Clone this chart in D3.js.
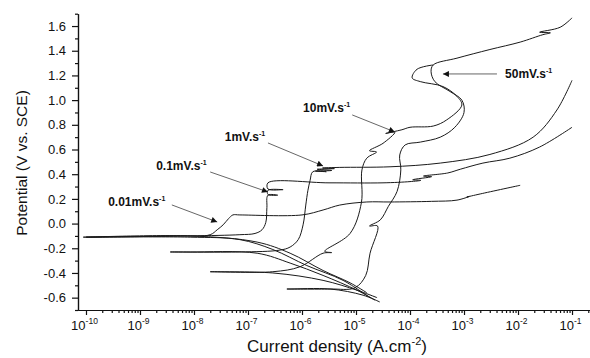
<!DOCTYPE html>
<html>
<head>
<meta charset="utf-8">
<script src="https://cdn.jsdelivr.net/npm/d3@7"></script>
<style>
  body { margin: 0; background: #fff; }
  svg text { font-family: Arial, "Liberation Sans", sans-serif; fill: #111; }
</style>
</head>
<body>
<div id="chart"></div>
<script>
// each point: [log10 of current density (A.cm-2), potential (V vs. SCE)]
const scan001 = [
  [-4.80, -0.56], [-5.11, -0.48], [-5.61, -0.38], [-6.22, -0.24], [-6.83, -0.15],
  [-8.07, -0.10], [-10.0, -0.11], [-8.30, -0.10], [-7.70, -0.09], [-7.57, -0.05],
  [-7.46, -0.01], [-7.36, 0.04], [-7.28, 0.07], [-7.15, 0.07], [-6.00, 0.07],
  [-5.61, 0.11], [-5.30, 0.15], [-4.80, 0.175], [-4.37, 0.175], [-3.60, 0.18],
  [-3.13, 0.19], [-2.90, 0.22], [-2.95, 0.215], [-2.70, 0.24], [-1.96, 0.31]
];
const scan01 = [
  [-4.74, -0.60], [-5.24, -0.46], [-5.91, -0.34], [-6.54, -0.21], [-7.15, -0.13],
  [-8.07, -0.11], [-10.05, -0.11], [-8.07, -0.10], [-7.15, -0.09], [-6.87, -0.08],
  [-6.74, -0.05], [-6.67, 0.01], [-6.65, 0.13], [-6.63, 0.23], [-6.45, 0.23],
  [-6.63, 0.235], [-6.63, 0.27], [-6.35, 0.275], [-6.63, 0.28], [-6.63, 0.33],
  [-5.50, 0.33], [-4.50, 0.33], [-4.00, 0.34], [-3.80, 0.35], [-3.95, 0.355],
  [-3.60, 0.38], [-3.75, 0.385], [-3.30, 0.41], [-3.07, 0.44], [-2.65, 0.49],
  [-2.15, 0.53], [-1.60, 0.62], [-1.00, 0.78]
];
const scan1 = [
  [-4.65, -0.62], [-4.98, -0.54], [-5.61, -0.42], [-6.22, -0.32], [-6.83, -0.24],
  [-8.07, -0.23], [-8.44, -0.23], [-7.15, -0.23], [-6.41, -0.215], [-6.22, -0.19],
  [-6.07, -0.13], [-5.98, -0.01], [-5.93, 0.15], [-5.89, 0.27], [-5.85, 0.35],
  [-5.80, 0.42], [-5.55, 0.42], [-5.75, 0.425], [-5.45, 0.43], [-5.72, 0.44],
  [-5.40, 0.445], [-5.62, 0.45], [-5.30, 0.455], [-4.37, 0.46], [-3.44, 0.49],
  [-2.52, 0.56], [-1.72, 0.70], [-1.28, 0.92], [-1.00, 1.16]
];
const scan10 = [
  [-4.61, -0.60], [-4.98, -0.54], [-5.61, -0.46], [-6.54, -0.40], [-7.70, -0.39],
  [-6.54, -0.39], [-6.04, -0.35], [-5.61, -0.24], [-5.45, -0.235], [-5.58, -0.225],
  [-5.11, -0.08], [-4.90, 0.17], [-4.89, 0.435], [-4.80, 0.53], [-4.62, 0.58],
  [-4.75, 0.59], [-4.50, 0.65], [-4.28, 0.74], [-4.45, 0.73], [-4.15, 0.76],
  [-4.00, 0.78], [-3.57, 0.79], [-3.32, 0.84], [-3.04, 0.96], [-3.13, 1.03],
  [-3.39, 1.11], [-3.81, 1.15], [-3.96, 1.18], [-3.87, 1.25], [-3.57, 1.285]
];
const scan50 = [
  [-4.56, -0.635], [-4.87, -0.58], [-5.48, -0.53], [-6.22, -0.53], [-6.28, -0.53],
  [-5.48, -0.53], [-5.02, -0.52], [-4.82, -0.42], [-4.74, -0.24], [-4.60, -0.02],
  [-4.75, -0.02], [-4.55, 0.03], [-4.40, 0.14], [-4.24, 0.26], [-4.17, 0.435],
  [-4.19, 0.556], [-4.09, 0.637], [-3.81, 0.66], [-3.44, 0.70], [-3.17, 0.78],
  [-3.00, 0.90], [-3.04, 1.00], [-3.26, 1.07], [-3.54, 1.15], [-3.61, 1.23],
  [-3.57, 1.285], [-3.13, 1.34], [-2.52, 1.41], [-1.96, 1.47], [-1.54, 1.53],
  [-1.40, 1.545], [-1.60, 1.55], [-1.22, 1.59], [-1.00, 1.666]
];

const yMajor = [-0.6, -0.4, -0.2, 0.0, 0.2, 0.4, 0.6, 0.8, 1.0, 1.2, 1.4, 1.6];
const yMinor = [-0.7, -0.5, -0.3, -0.1, 0.1, 0.3, 0.5, 0.7, 0.9, 1.1, 1.3, 1.5, 1.7];
const xDecades = [-10, -9, -8, -7, -6, -5, -4, -3, -2, -1];

const rateLabels = ["0.01mV.s", "0.1mV.s", "1mV.s", "10mV.s", "50mV.s"];
// label anchor, arrow start, arrow tip, all as [log10 I, V]
const rateText = [[-9.59, 0.175], [-8.70, 0.467], [-7.43, 0.70], [-5.98, 0.937], [-2.24, 1.212]];
const rateFrom = [[-8.41, 0.151], [-7.70, 0.418], [-6.63, 0.653], [-5.07, 0.88], [-2.39, 1.212]];
const rateTip = [[-7.57, 0.013], [-6.63, 0.256], [-5.61, 0.467], [-4.28, 0.742], [-3.39, 1.212]];

const width = 590;
const height = 358;

const svg = d3.select("#chart")
  .append("svg")
  .attr("width", width)
  .attr("height", height);

const x = d3.scaleLog().domain([10 ** -10.148, 10 ** -0.667]).range([78, 590]);
const y = d3.scaleLinear().domain([-0.7, 1.7]).range([310, 13.7]);

const px = (d) => x(10 ** d[0]);
const py = (d) => y(d[1]);

// axes
const minorX = [];
xDecades.forEach((e) => {
  for (let k = 2; k <= 9; k++) minorX.push(k * 10 ** e);
});

svg.append("g")
  .attr("transform", "translate(0,310)")
  .call(d3.axisBottom(x).tickValues(minorX).tickSize(3).tickSizeOuter(0).tickFormat(""));

const xAxis = svg.append("g")
  .attr("class", "x-axis")
  .attr("transform", "translate(0,310)")
  .call(d3.axisBottom(x).tickValues(xDecades.map((e) => 10 ** e)).tickSize(5).tickSizeOuter(0).tickFormat(""));

xAxis.selectAll(".tick")
  .append("text")
  .attr("x", -2)
  .attr("y", 20)
  .attr("text-anchor", "middle")
  .attr("font-size", 13)
  .each(function (d) {
    const t = d3.select(this);
    t.append("tspan").text("10");
    t.append("tspan").attr("dy", -6).attr("font-size", 8.5).text(Math.round(Math.log10(d)));
  });

svg.append("g")
  .attr("transform", "translate(78,0)")
  .call(d3.axisLeft(y).tickValues(yMinor).tickSize(3).tickSizeOuter(0).tickFormat(""));

svg.append("g")
  .attr("class", "y-axis")
  .attr("transform", "translate(78,0)")
  .call(d3.axisLeft(y).tickValues(yMajor).tickSize(6).tickSizeOuter(0).tickFormat((d) => d.toFixed(1)))
  .selectAll("text")
  .attr("font-size", 13)
  .attr("x", -12)
  .attr("fill", "#111");

svg.selectAll(".domain, .tick line").attr("stroke", "#111").attr("stroke-width", 1.2);

// axis titles
svg.append("text")
  .attr("x", 337)
  .attr("y", 352)
  .attr("text-anchor", "middle")
  .attr("font-size", 17)
  .call((t) => {
    t.append("tspan").text("Current density (A.cm");
    t.append("tspan").attr("dy", -7).attr("font-size", 11).text("-2");
    t.append("tspan").attr("dy", 7).text(")");
  });

svg.append("text")
  .attr("transform", "translate(27,163) rotate(-90)")
  .attr("text-anchor", "middle")
  .attr("font-size", 15.5)
  .text("Potential (V vs. SCE)");

// curves
const line = d3.line().x(px).y(py).curve(d3.curveCatmullRom.alpha(0.5));
const scans = [scan001, scan01, scan1, scan10, scan50];

svg.append("g")
  .selectAll("path")
  .data(scans)
  .join("path")
  .attr("d", line)
  .attr("fill", "none")
  .attr("stroke", "#1a1a1a")
  .attr("stroke-width", 1)
  .attr("stroke-linejoin", "round");

// annotations
svg.append("defs")
  .append("marker")
  .attr("id", "tip")
  .attr("viewBox", "0 0 10 10")
  .attr("refX", 10)
  .attr("refY", 5)
  .attr("markerWidth", 9)
  .attr("markerHeight", 6)
  .attr("markerUnits", "userSpaceOnUse")
  .attr("orient", "auto")
  .append("path")
  .attr("d", "M0,0L10,5L0,10z")
  .attr("fill", "#111");

svg.append("g")
  .selectAll("line")
  .data(rateLabels)
  .join("line")
  .attr("x1", (d, i) => px(rateFrom[i]))
  .attr("y1", (d, i) => py(rateFrom[i]))
  .attr("x2", (d, i) => px(rateTip[i]))
  .attr("y2", (d, i) => py(rateTip[i]))
  .attr("stroke", "#555")
  .attr("stroke-width", 0.9)
  .attr("marker-end", "url(#tip)");

svg.append("g")
  .selectAll("text")
  .data(rateLabels)
  .join("text")
  .attr("x", (d, i) => px(rateText[i]))
  .attr("y", (d, i) => py(rateText[i]) + 4)
  .attr("font-size", 12)
  .attr("font-weight", "bold")
  .attr("fill", "#333")
  .each(function (d) {
    const t = d3.select(this);
    t.append("tspan").text(d);
    t.append("tspan").attr("dy", -5).attr("font-size", 7).text("-1");
  });
</script>
</body>
</html>
